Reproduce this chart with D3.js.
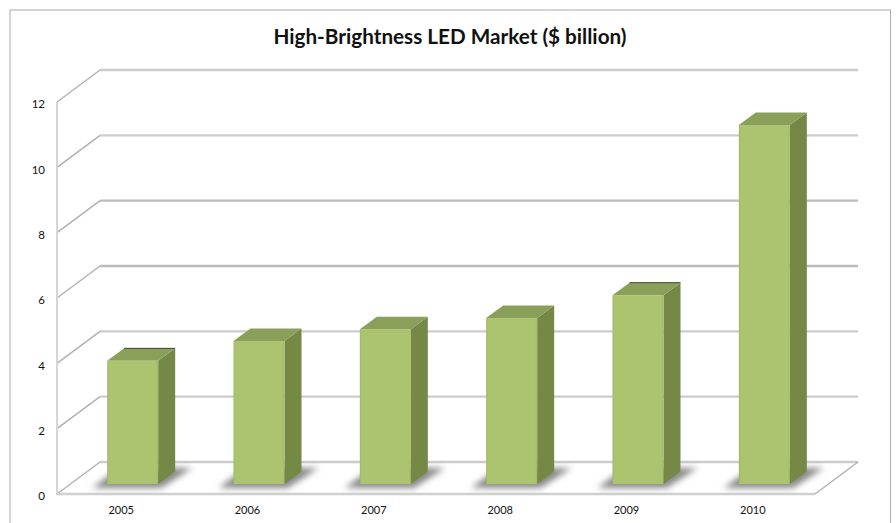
<!DOCTYPE html>
<html>
<head>
<meta charset="utf-8">
<script src="https://d3js.org/d3.v7.min.js"></script>
<style>
  html, body { margin: 0; padding: 0; background: #fff; overflow: hidden; }
  svg { display: block; }
  text { font-family: Lato, "Open Sans", sans-serif; fill: #111; }
</style>
</head>
<body>
<svg id="chart" width="896" height="523"></svg>
<script>
const years = ['2005', '2006', '2007', '2008', '2009', '2010'];
const market = [3.77, 4.38, 4.74, 5.08, 5.78, 10.99];
const yTicks = [0, 2, 4, 6, 8, 10, 12];
// years whose bar top shows a dark back edge in the original
const darkEdgeYears = ['2005', '2009'];

const svg = d3.select('#chart');
const defs = svg.append('defs');
defs.append('filter').attr('id', 'soft').attr('x', '-30%').attr('y', '-60%')
  .attr('width', '160%').attr('height', '220%')
  .append('feGaussianBlur').attr('stdDeviation', 3);
const front = defs.append('linearGradient').attr('id', 'barFront');
[[0, '#9fb966'], [0.04, '#acc470'], [0.96, '#acc470'], [1, '#9fb966']].forEach(s =>
  front.append('stop').attr('offset', s[0]).attr('stop-color', s[1]));

/* ── FRAME ── */
svg.append('rect').attr('x', 10).attr('y', 10).attr('width', 880.5).attr('height', 530)
  .attr('fill', '#fff').attr('stroke', '#ababab').attr('stroke-width', 1);

svg.append('text').attr('x', 450).attr('y', 44).attr('text-anchor', 'middle')
  .style('font-size', '20.7px').style('font-weight', 700).text('High-Brightness LED Market ($ billion)');

/* ── SCALES ── */
const x = d3.scaleBand().domain(years).range([57, 815]);
const y = d3.scaleLinear().domain([0, 12]).range([494, 102]);
const depthX = 43, depthY = 32;      // floor depth of the 3d box
const barW = 51, barDx = 17, barDy = 12.5;
const shiftX = 12.5, shiftY = 10;    // bar front sits this far back from the front plane
const barX = d => x(d) + (x.bandwidth() - barW) / 2 + shiftX;
const pts = a => a.map(p => p.join(',')).join(' ');

/* ── WALLS ── */
const grid = svg.append('g');
grid.selectAll('.grid').data(yTicks).join('line').attr('class', 'grid')
  .attr('x1', 57 + depthX).attr('x2', 815 + depthX)
  .attr('y1', d => y(d) - depthY).attr('y2', d => y(d) - depthY)
  .attr('stroke', d => (d === 6 || d === 8) ? '#bcbcbc' : '#cccccc').attr('stroke-width', 2.4);
grid.selectAll('.diag').data(yTicks).join('line').attr('class', 'diag')
  .attr('x1', 57).attr('y1', d => y(d))
  .attr('x2', 57 + depthX).attr('y2', d => y(d) - depthY)
  .attr('stroke', '#b0b0b0').attr('stroke-width', 1.4);
grid.append('line').attr('x1', 57).attr('x2', 57).attr('y1', y(12)).attr('y2', y(0))
  .attr('stroke', '#d6d6d6').attr('stroke-width', 2);
grid.append('line').attr('x1', 56).attr('x2', 815).attr('y1', y(0)).attr('y2', y(0))
  .attr('stroke', '#d0d0d0').attr('stroke-width', 2.4);
grid.append('line').attr('x1', 815).attr('y1', y(0))
  .attr('x2', 815 + depthX).attr('y2', y(0) - depthY)
  .attr('stroke', '#b0b0b0').attr('stroke-width', 1.4);

/* ── AXES ── */
const yAxis = d3.axisLeft(y).tickValues(yTicks).tickSize(0).tickPadding(12);
svg.append('g').attr('transform', 'translate(57,2)').call(yAxis)
  .call(g => g.select('.domain').remove())
  .selectAll('text').style('font-size', '11.5px');
const xAxis = d3.axisBottom(x).tickSize(0).tickPadding(12);
svg.append('g').attr('transform', 'translate(1,' + y(0) + ')').call(xAxis)
  .call(g => g.select('.domain').remove())
  .selectAll('text').style('font-size', '11px');

/* ── BARS ── */
const data = d3.zip(years, market);
const bars = svg.selectAll('.bar').data(data).join('g').attr('class', 'bar');

bars.append('polygon').attr('filter', 'url(#soft)').attr('fill', '#888888')
  .attr('points', d => {
    const l = barX(d[0]), b = y(0) - shiftY;
    return pts([[l - 15, b + 4], [l + barW + 3, b + 4], [l + barW + 34, b - 16], [l + 12, b - 16]]);
  });

bars.append('polygon').attr('fill', '#758846').attr('points', d => {
  const r = barX(d[0]) + barW, b = y(0) - shiftY, t = y(d[1]) - shiftY;
  return pts([[r, b], [r + barDx, b - barDy], [r + barDx, t - barDy], [r, t]]);
});
bars.append('polygon').attr('fill', '#8a9f59').attr('points', d => {
  const l = barX(d[0]), t = y(d[1]) - shiftY;
  return pts([[l, t], [l + barW, t], [l + barW + barDx, t - barDy], [l + barDx, t - barDy]]);
});
bars.append('rect').attr('fill', 'url(#barFront)')
  .attr('x', d => barX(d[0])).attr('width', barW)
  .attr('y', d => y(d[1]) - shiftY).attr('height', d => y(0) - y(d[1]));
bars.filter(d => darkEdgeYears.includes(d[0])).append('line')
  .attr('x1', d => barX(d[0]) + barDx).attr('x2', d => barX(d[0]) + barW + barDx)
  .attr('y1', d => y(d[1]) - shiftY - barDy).attr('y2', d => y(d[1]) - shiftY - barDy)
  .attr('stroke', '#3d4526').attr('stroke-width', 1);
</script>
</body>
</html>
